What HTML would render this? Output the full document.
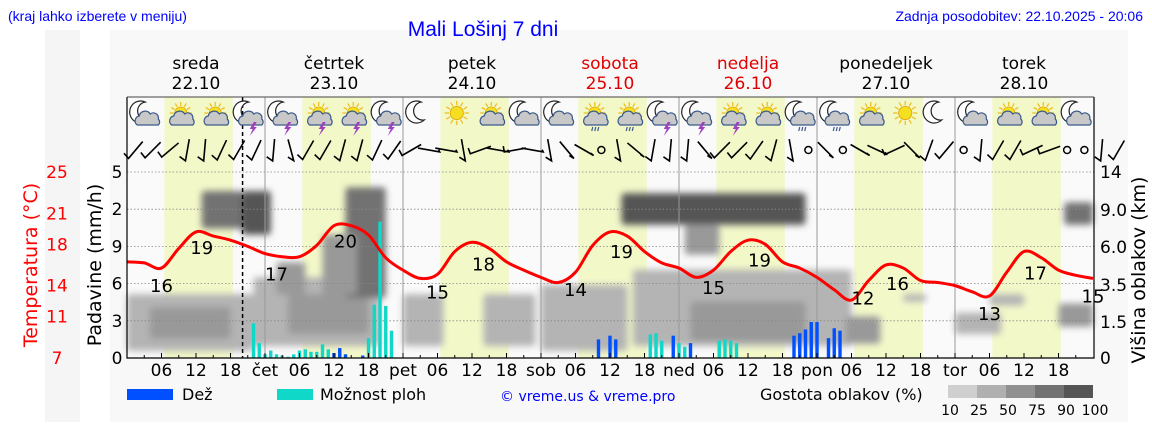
<!DOCTYPE html>
<html><head><meta charset="utf-8"><style>
body{margin:0;background:#fff;width:1152px;height:443px;overflow:hidden;font-family:"Liberation Sans","DejaVu Sans",sans-serif}
svg text{font-family:"DejaVu Sans","Liberation Sans",sans-serif}
</style></head><body>
<svg id="c" width="1152" height="443" xmlns="http://www.w3.org/2000/svg">
<defs><filter id="bl" x="-20%" y="-20%" width="140%" height="140%"><feGaussianBlur stdDeviation="3.5"/></filter></defs>
<rect x="45" y="30" width="35" height="392" fill="#f5f5f5"/>
<rect x="110" y="30" width="1018" height="392" fill="#f8f8f8"/>
<text x="8" y="21" font-size="14" fill="#0000ff" style="font-family:'Liberation Sans',sans-serif">(kraj lahko izberete v meniju)</text>
<text x="483" y="36" font-size="21" fill="#0000ff" text-anchor="middle" style="font-family:'Liberation Sans',sans-serif">Mali Lošinj 7 dni</text>
<text x="1143" y="21" font-size="14" fill="#0000ff" text-anchor="end" style="font-family:'Liberation Sans',sans-serif">Zadnja posodobitev: 22.10.2025 - 20:06</text>
<g id="bg"></g><g id="clouds" filter="url(#bl)"></g><g id="grid"></g><g id="bars"></g><g id="temp"></g><g id="icons"></g><g id="wind"></g><g id="axes"></g>
<text transform="translate(37,265) rotate(-90)" font-size="19" fill="#ff0000" text-anchor="middle">Temperatura (°C)</text>
<text transform="translate(101,265) rotate(-90)" font-size="19" fill="#000" text-anchor="middle">Padavine (mm/h)</text>
<text transform="translate(1145,270) rotate(-90)" font-size="19" fill="#000" text-anchor="middle">Višina oblakov (km)</text>
<rect x="127" y="389" width="46" height="11" fill="#0050ff"/>
<text x="182" y="400" font-size="16">Dež</text>
<rect x="277" y="389" width="36" height="11" fill="#10d8c8"/>
<text x="320" y="400" font-size="16">Možnost ploh</text>
<text x="500" y="401" font-size="14" fill="#0000ff">© vreme.us &amp; vreme.pro</text>
<text x="760" y="400" font-size="16">Gostota oblakov (%)</text>
<g id="cbar"></g>
</svg>
<script>
const days=["sreda","četrtek","petek","sobota","nedelja","ponedeljek","torek"];
const dates=["22.10","23.10","24.10","25.10","26.10","27.10","28.10"];
const dayShort=["","čet","pet","sob","ned","pon","tor"];
const weekend=[false,false,false,true,true,false,false];
const tempTicks=[25,21,18,14,11,7];
const precipTickLabels=["5","2","9","6","3","0"];
const precipTickVals=[15,12,9,6,3,0];
const cloudTickLabels=["14","9.0","6.0","3.5","1.5","0"];
const cloudTickKm=[14,9,6,3.5,1.5,0];
// temperature every 3h from 22.10 00:00
const temps=[16.3,16.2,15.7,17.6,19.2,18.8,18.4,17.8,17.1,16.8,16.8,17.9,19.8,19.8,18.9,16.7,15.5,14.7,15.1,17.3,18.2,17.6,16.3,15.5,14.8,14.3,15.3,17.9,19.2,18.8,17.3,16.2,15.7,14.8,15.5,17.3,18.4,18.0,16.3,15.7,14.8,13.6,12.6,14.5,16.0,15.7,14.5,14.3,14.0,13.4,13.0,15.3,17.3,16.7,15.5,15.0,14.7];
const tempLabelVals=[16,19,17,20,15,18,14,19,15,19,12,16,13,17,15];
const tempLabelHours=[6,13,26,38,54,62,78,86,102,110,128,134,150,158,168];
const tempLabelAbove=[false,true,false,true,false,true,false,true,false,true,false,true,false,true,false];
const rainHours=[36,37,38,41,82,84,85,95,98,116,117,118,119,120,122,123,124];
const rainVals=[0.4,0.8,0.3,0.2,1.5,1.8,1.5,1.8,1.2,1.8,2.0,2.3,2.9,2.9,1.6,2.4,2.2];
const showerHours=[22,23,24,25,26,27,28,29,30,31,32,33,34,35,42,43,44,45,46,91,92,93,96,97,103,104,105,106];
const showerVals=[2.8,1.2,0.3,0.6,0.3,0.2,0.1,0.3,0.6,0.7,0.5,0.5,1.1,0.7,1.6,4.3,11,4.2,2.2,1.9,2.0,1.4,1.2,0.9,1.4,1.5,1.4,1.2];
// cloud blobs: hourStart, hourEnd, kmLow, kmHigh, density%
const cloudStart=[0,4,13,20,22,26,28,38,34,48,62,72,86,97,88,98,125,135,144,162,163,150];
const cloudEnd=[22,18,20,25,44,31,42,45,40,55,71,87,118,103,126,118,131,139,152,168,168,156];
const cloudLow=[0.3,0.8,7.5,7,0.5,3,1,2.8,3,0.5,0.5,0.3,7.8,5.5,0.5,0.7,0.6,2.6,1.0,1.3,7.8,2.4];
const cloudHigh=[3.0,2.3,11.5,11.5,4,5,3,12,7,3,3,3.5,11.2,7.8,4.5,2.6,1.8,3.0,2.0,2.5,10,3.0];
const cloudDens=[35,50,85,90,45,70,55,88,70,35,38,40,92,70,48,55,55,45,30,50,85,35];
const iconTypes=["mc","sc","sc","ms","ms","ss","ss","ms","m","s","sc","mc","mc","sr","sr","ms","ms","ss","sc","mr","mr","sc","s","m","mc","sc","sc","mc"];
// wind shaft tilt (deg from vertical) every 3h; -99 = calm
const windDir=[-40,-45,-50,-10,-5,-25,-30,-25,-5,15,-30,-30,-15,-15,-25,-35,-60,80,80,10,-70,80,-80,80,10,40,60,-99,10,50,-10,-5,-5,40,-45,-45,-35,-15,10,-99,45,-99,60,65,-65,45,-20,-40,-99,-5,-30,-30,-65,-70,-99,-99,-5,-30];
const NS="http://www.w3.org/2000/svg";
const X0=127,X1=1094,YT=97,YB=358,HP=5.75;
const xH=h=>X0+h*HP;
const yT=t=>172+(25-t)*10.33;
const yP=p=>358-p*12.4;
const kmS=[0,1.5,3.5,6,9,14],kmY=[358,322,285,247,210,172];
function yK(k){for(let i=0;i<kmS.length-1;i++){if(k<=kmS[i+1]){return kmY[i]+(k-kmS[i])/(kmS[i+1]-kmS[i])*(kmY[i+1]-kmY[i]);}}return 172;}
function mk(tag,attrs,parent,txt){const e=document.createElementNS(NS,tag);for(const k in attrs)e.setAttribute(k,attrs[k]);if(txt!==undefined)e.textContent=txt;document.getElementById(parent).appendChild(e);return e;}
let r=mk('rect',{x:X0,y:YT,width:X1-X0,height:YB-YT,fill:'#fafafa'},'bg');

for(let d=0;d<7;d++){
 let e=mk('rect',{x:xH(d*24+6.5),y:YT,width:(18.4-6.5)*HP,height:YB-YT,fill:'#f3f8c9'},'bg');
 
 let cx=xH(d*24+12);
 e=mk('text',{x:cx,y:69,'font-size':17,'text-anchor':'middle',fill:weekend[d]?'#e00000':'#000'},'axes',days[d]);
 
 e=mk('text',{x:cx,y:89,'font-size':17,'text-anchor':'middle',fill:weekend[d]?'#e00000':'#000'},'axes',dates[d]);
 
}
const cc=d=>d>=90?'#555':d>=75?'#727272':d>=50?'#999':d>=25?'#b4b4b4':'#d2d2d2';
for(let i=0;i<cloudStart.length;i++){
 let y1=yK(cloudHigh[i]),y2=yK(cloudLow[i]);
 let e=mk('rect',{x:xH(cloudStart[i]),y:y1,width:(cloudEnd[i]-cloudStart[i])*HP,height:y2-y1,rx:3,fill:cc(cloudDens[i])},'clouds');
 
}
for(let i=0;i<5;i++){let y=yP(precipTickVals[i]);let e=mk('line',{x1:X0,x2:X1,y1:y,y2:y,stroke:'#888','stroke-width':0.8,'stroke-dasharray':'1.5,2'},'grid');
 }
for(let d=1;d<7;d++){let e=mk('line',{x1:xH(d*24),x2:xH(d*24),y1:YT,y2:YB,stroke:'#999','stroke-width':1},'grid');
 }
let nl=mk('line',{x1:xH(20.1),x2:xH(20.1),y1:YT,y2:YB,stroke:'#000','stroke-width':1.5,'stroke-dasharray':'4,3'},'grid');

for(let i=0;i<showerHours.length;i++){let y=yP(showerVals[i]);let e=mk('rect',{x:xH(showerHours[i])-1.7,y:y,width:3.4,height:358-y,fill:'#10d8c8'},'bars');
 }
for(let i=0;i<rainHours.length;i++){let y=yP(rainVals[i]);let e=mk('rect',{x:xH(rainHours[i])-1.7,y:y,width:3.4,height:358-y,fill:'#0050ff'},'bars');
 }
let pts=temps.map((t,i)=>[xH(i*3),yT(t)]);
let dpath='M'+pts[0][0]+','+pts[0][1];
for(let i=1;i<pts.length;i++){const p0=pts[Math.max(0,i-2)],p1=pts[i-1],p2=pts[i],p3=pts[Math.min(pts.length-1,i+1)];
 dpath+=' C'+(p1[0]+(p2[0]-p0[0])/6)+','+(p1[1]+(p2[1]-p0[1])/6)+' '+(p2[0]-(p3[0]-p1[0])/6)+','+(p2[1]-(p3[1]-p1[1])/6)+' '+p2[0]+','+p2[1];}
let tl=mk('path',{d:dpath,fill:'none',stroke:'#ff0000','stroke-width':3},'temp');

for(let i=0;i<tempLabelVals.length;i++){const h=tempLabelHours[i];const t=temps[Math.min(56,Math.round(h/3))];
 let y=tempLabelAbove[i]?yT(t)+22:yT(t)+24;
 let e=mk('text',{x:xH(h),y:y,'font-size':18,'text-anchor':'middle',fill:'#000'},'temp',String(tempLabelVals[i]));
 }
function sun(g,cx,cy,s){for(let a=0;a<12;a++){const an=a*Math.PI/6;const l=document.createElementNS(NS,'line');l.setAttribute('x1',cx+Math.cos(an)*7*s);l.setAttribute('y1',cy+Math.sin(an)*7*s);l.setAttribute('x2',cx+Math.cos(an)*11*s);l.setAttribute('y2',cy+Math.sin(an)*11*s);l.setAttribute('stroke','#f0c020');l.setAttribute('stroke-width',1.3);g.appendChild(l);}
 const c=document.createElementNS(NS,'circle');c.setAttribute('cx',cx);c.setAttribute('cy',cy);c.setAttribute('r',6*s);c.setAttribute('fill','#f4e020');c.setAttribute('stroke','#e0a000');c.setAttribute('stroke-width',0.8);g.appendChild(c);}
function moon(g,cx,cy){const p=document.createElementNS(NS,'path');p.setAttribute('d',`M${cx+3},${cy-11} A11,11 0 1,0 ${cx+6},${cy+7} A9,9 0 1,1 ${cx+3},${cy-11}Z`);p.setAttribute('fill','#fff');p.setAttribute('stroke','#222');p.setAttribute('stroke-width',1.2);g.appendChild(p);}
function cloud(g,cx,cy){const p=document.createElementNS(NS,'path');p.setAttribute('d',`M${cx-11},${cy+6} a5,5 0 0,1 2,-9 a6,6 0 0,1 11,-2 a5,5 0 0,1 8,5 a4,4 0 0,1 0,6 Z`);p.setAttribute('fill','#c8c8c8');p.setAttribute('stroke','#3a5a8a');p.setAttribute('stroke-width',1.2);g.appendChild(p);}
function bolt(g,cx,cy){const p=document.createElementNS(NS,'path');p.setAttribute('d',`M${cx+2},${cy} l-4,7 h3 l-3,7 l7,-9 h-3 l3,-5z`);p.setAttribute('fill','#a040c0');g.appendChild(p);}
function rain(g,cx,cy){for(let k=0;k<3;k++){const l=document.createElementNS(NS,'line');l.setAttribute('x1',cx-4+k*3);l.setAttribute('y1',cy);l.setAttribute('x2',cx-5+k*3);l.setAttribute('y2',cy+4);l.setAttribute('stroke','#3a5a8a');l.setAttribute('stroke-width',1.2);g.appendChild(l);}}
for(let k=0;k<iconTypes.length;k++){const t=iconTypes[k];const cx=xH(3+6*k),cy=115;
 const g=mk('g',{},'icons');
 if(t[0]==='s'){sun(g,cx+2,cy-2,t==='s'?1.1:1);}else{moon(g,cx-2,cy-2);}
 if(t[1]){cloud(g,cx+4,cy+4);if(t[1]==='s')bolt(g,cx+4,cy+7);if(t[1]==='r')rain(g,cx+4,cy+12);}}
for(let k=0;k<windDir.length;k++){const cx=xH(1.5+3*k),cy=150;const a=windDir[k];
 if(a===-99){let e=mk('circle',{cx:cx,cy:cy,r:3.5,fill:'none',stroke:'#000','stroke-width':1.5},'wind');continue;}
 const rad=a*Math.PI/180,L=11;const dx=Math.sin(rad)*L,dy=Math.cos(rad)*L;
 let e=mk('path',{d:`M${cx-dx},${cy-dy} L${cx+dx},${cy+dy} l${-6*Math.cos(rad)},${6*Math.sin(rad)*0.3-4}`,fill:'none',stroke:'#000','stroke-width':1.6},'wind');
 }
let fr=mk('path',{d:`M${X0},${YT} V${YB} H${X1} V${YT}`,fill:'none',stroke:'#000','stroke-width':1.2},'axes');

let tp=mk('line',{x1:X0,x2:X1,y1:YT,y2:YT,stroke:'#444','stroke-width':1},'axes');

for(let i=0;i<6;i++){
 let e=mk('text',{x:57,y:yT(tempTicks[i])+6,'font-size':17,fill:'#ff0000','text-anchor':'middle'},'axes',String(tempTicks[i]));
 
 e=mk('text',{x:117,y:yP(precipTickVals[i])+6,'font-size':17,'text-anchor':'middle'},'axes',precipTickLabels[i]);
 
 e=mk('text',{x:1100,y:yK(cloudTickKm[i])+6,'font-size':17},'axes',cloudTickLabels[i]);
 
}
for(let h=3;h<168;h+=3){let e=mk('line',{x1:xH(h),x2:xH(h),y1:YB,y2:YB-(h%6===0?5:3),stroke:'#000','stroke-width':1},'axes');
 
 if(h%6===0){const d=Math.floor(h/24),hr=h%24;const lab=hr===0?dayShort[d]:(hr<10?'0':'')+hr;
  e=mk('text',{x:xH(h),y:376,'font-size':17,'text-anchor':'middle'},'axes',lab);
  }}
const cbLabels=["10","25","50","75","90","100"];
const cbCols=["#cfcfcf","#b0b0b0","#909090","#727272","#555"];
for(let i=0;i<5;i++){let e=mk('rect',{x:948+i*29,y:385,width:29,height:13,fill:cbCols[i]},'cbar');
 }
for(let i=0;i<6;i++){let e=mk('text',{x:950+i*29,y:415,'font-size':14,'text-anchor':'middle'},'cbar',cbLabels[i]);
 }
</script>
</body></html>
